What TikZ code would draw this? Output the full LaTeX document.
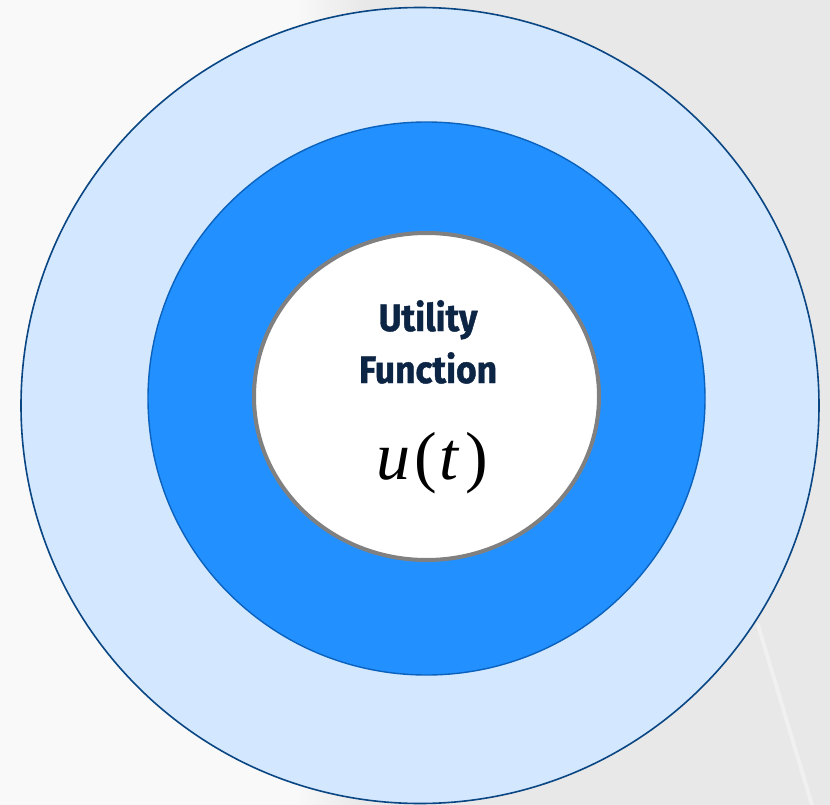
\documentclass[tikz,border=0pt]{standalone}
\usepackage{fontspec}
\setmainfont{Liberation Serif}
\newfontfamily\labelfont[BoldFeatures={FakeBold=1.2}]{Fira Sans}
\definecolor{bgleft}{HTML}{F9F9F9}
\definecolor{bgright}{HTML}{E8E8E8}
\definecolor{outerfill}{HTML}{D3E8FE}
\definecolor{outerline}{HTML}{0A4683}
\definecolor{midfill}{HTML}{2390FF}
\definecolor{midline}{HTML}{0B62BD}
\definecolor{innerline}{HTML}{808080}
\definecolor{navy}{HTML}{0D2544}
\tikzset{
  outerring/.style={fill=outerfill, draw=outerline, line width=1.6pt},
  midring/.style={fill=midfill, draw=midline, line width=1.4pt},
  innerring/.style={fill=white, draw=innerline, line width=4pt},
  titletext/.style={text=navy, font=\labelfont\bfseries\fontsize{38}{52}\selectfont, align=center},
  mathtext/.style={text=black, font=\fontsize{68}{76}\selectfont}
}
\begin{document}
\begin{tikzpicture}[x=1pt,y=-1pt]
\useasboundingbox (0,0) rectangle (830,805);
% background
\fill[bgleft] (0,0) rectangle (830,805);
\shade[left color=bgleft, right color=bgright] (295,0) rectangle (365,805);
\fill[bgright] (365,0) rectangle (830,805);
\draw[white, opacity=0.35, line width=4pt, line cap=round] (758,625) -- (812,805);
% rings
\path[outerring] (420,405.5) ellipse [x radius=399, y radius=398];
\path[midring] (426.5,398.5) ellipse [x radius=278.5, y radius=276.5];
\path[innerring] (426.5,396.5) ellipse [x radius=172.5, y radius=163.5];
% text
\node[titletext, anchor=base] (l1) at (428,331) {\scalebox{0.93}[1]{Utility}};
\node[titletext, anchor=base] (l2) at (428,383) {\scalebox{0.93}[1]{Function}};
\node[mathtext, anchor=base] (ut) at (432,479) {\textit{u}\kern4pt(\kern3pt\textit{t}\kern5pt)};
\end{tikzpicture}
\end{document}
